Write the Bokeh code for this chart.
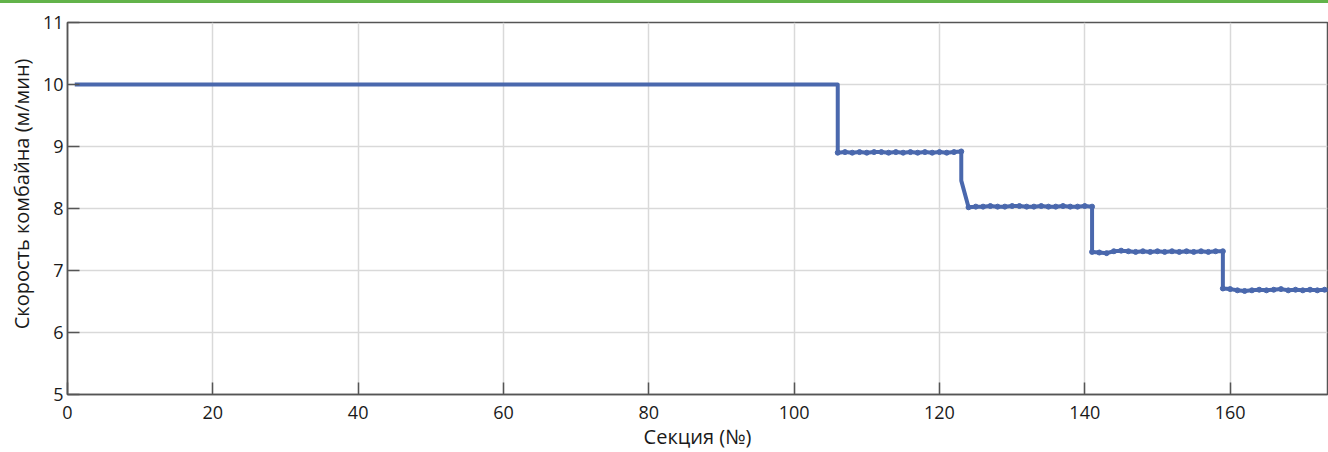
from bokeh.plotting import figure
from bokeh.models import FixedTicker, Range1d, Title, Div
from bokeh.layouts import column
from bokeh.embed import file_html
from bokeh.resources import INLINE

# ---- data ----
x_ticks = [0, 20, 40, 60, 80, 100, 120, 140, 160]
y_ticks = [5, 6, 7, 8, 9, 10, 11]

seg1_x = list(range(1, 107))
seg1_y = [10.0] * 106

seg2_x = list(range(106, 124))
seg2_y = [8.90, 8.91, 8.90, 8.91, 8.90, 8.91, 8.91, 8.90, 8.91,
          8.90, 8.91, 8.90, 8.91, 8.90, 8.91, 8.90, 8.91, 8.92]

trans_x = [123]
trans_y = [8.45]

seg3_x = list(range(124, 142))
seg3_y = [8.02, 8.03, 8.03, 8.04, 8.03, 8.03, 8.04, 8.04, 8.03,
          8.03, 8.04, 8.03, 8.03, 8.04, 8.03, 8.03, 8.04, 8.03]

seg4_x = list(range(141, 160))
seg4_y = [7.30, 7.29, 7.28, 7.31, 7.32, 7.31, 7.30, 7.31, 7.30, 7.31,
          7.30, 7.31, 7.30, 7.31, 7.30, 7.31, 7.30, 7.31, 7.31]

seg5_x = list(range(159, 175))
seg5_y = [6.71, 6.70, 6.68, 6.67, 6.68, 6.69, 6.68, 6.69, 6.70,
          6.68, 6.69, 6.68, 6.69, 6.68, 6.69, 6.68]

line_x = seg1_x + seg2_x + trans_x + seg3_x + seg4_x + seg5_x
line_y = seg1_y + seg2_y + trans_y + seg3_y + seg4_y + seg5_y
dot_x = seg2_x + seg3_x + seg4_x + seg5_x
dot_y = seg2_y + seg3_y + seg4_y + seg5_y

FONT = "Open Sans"
LINE_COLOR = "#4a68ad"
AXIS_COLOR = "#555555"
TEXT_COLOR = "#1a1a1a"

band = Div(text="", width=1328, height=3, margin=(0, 0, 0, 0),
           styles={"background-color": "#62b34a"})

p = figure(width=1328, height=449, output_backend="svg", toolbar_location=None,
           x_range=Range1d(0, 173.4), y_range=Range1d(5, 11),
           min_border_left=60, min_border_right=1, min_border_top=19,
           min_border_bottom=56)
p.outline_line_color = AXIS_COLOR
p.outline_line_width = 1.5
p.background_fill_color = "white"
p.border_fill_color = "white"

p.line(line_x, line_y, line_color=LINE_COLOR, line_width=4, line_join="round")
p.scatter(dot_x, dot_y, size=5, fill_color=LINE_COLOR, line_color=LINE_COLOR)

for ax in (p.xaxis[0], p.yaxis[0]):
    ax.axis_line_color = AXIS_COLOR
    ax.axis_line_width = 1.5
    ax.major_tick_line_color = AXIS_COLOR
    ax.major_tick_line_width = 1.5
    ax.major_tick_in = 12
    ax.major_tick_out = 0
    ax.minor_tick_line_color = None
    ax.major_label_text_font = FONT
    ax.major_label_text_font_size = "18px"
    ax.major_label_text_color = TEXT_COLOR

p.xaxis.ticker = FixedTicker(ticks=x_ticks)
p.yaxis.ticker = FixedTicker(ticks=y_ticks)
p.xaxis.axis_label = "Секция (№)"
p.xaxis.axis_label_text_font = FONT
p.xaxis.axis_label_text_font_size = "20px"
p.xaxis.axis_label_text_font_style = "normal"
p.xaxis.axis_label_text_color = TEXT_COLOR
p.xaxis.major_label_standoff = 11
p.yaxis.major_label_standoff = 4
p.xaxis.axis_label_standoff = 1

ylab = Title(text="Скорость комбайна (м/мин)", align="right", offset=36,
             text_font=FONT, text_font_size="20px", text_font_style="normal",
             text_color=TEXT_COLOR)
p.add_layout(ylab, "left")

p.grid.grid_line_color = "#d9d9d9"
p.grid.grid_line_width = 1.5
p.xgrid.ticker = FixedTicker(ticks=x_ticks)
p.ygrid.ticker = FixedTicker(ticks=y_ticks)

layout = column(band, p, spacing=0)
open("out.html", "w").write(file_html(layout, INLINE))
